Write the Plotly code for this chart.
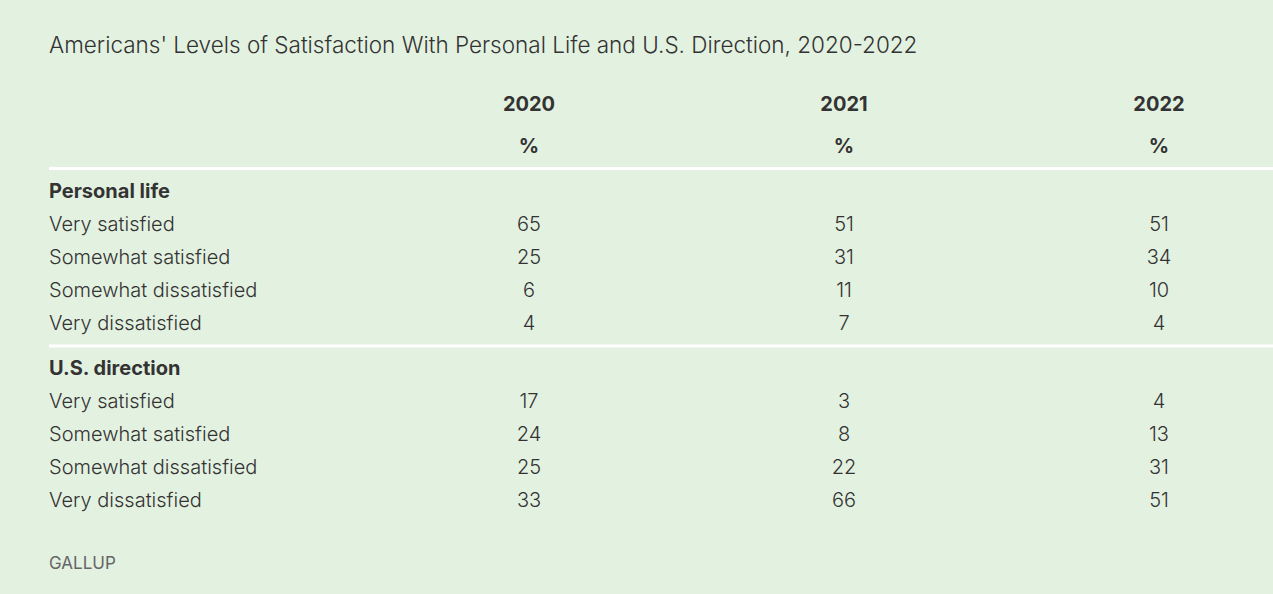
import plotly.graph_objects as go

# --- data ---
years = ["2020", "2021", "2022"]
unit_label = "%"
groups = ["Personal life", "U.S. direction"]
row_labels = ["Very satisfied", "Somewhat satisfied", "Somewhat dissatisfied", "Very dissatisfied"]
personal_2020 = [65, 25, 6, 4]
personal_2021 = [51, 31, 11, 7]
personal_2022 = [51, 34, 10, 4]
direction_2020 = [17, 24, 25, 33]
direction_2021 = [3, 8, 22, 66]
direction_2022 = [4, 13, 31, 51]

title = "Americans' Levels of Satisfaction With Personal Life and U.S. Direction, 2020-2022"
source = "GALLUP"

# --- layout constants (pixel-like axes) ---
W, H = 1273, 594
BG = "#e3f1e0"
TXT = "#333333"
FONT = "Inter"
LEFT = 49
COL0, COL_STEP = 529, 315
ROW_H = 33
DY = 3  # scatter text sits a bit high, nudge down

col_x = [COL0 + COL_STEP * i for i in range(len(years))]
values = [
    [personal_2020, personal_2021, personal_2022],
    [direction_2020, direction_2021, direction_2022],
]

body_font = dict(family=FONT, size=20, color=TXT, weight=300)
bold_font = dict(family=FONT, size=20, color=TXT, weight="bold")

fig = go.Figure()

# header rows
fig.add_trace(go.Scatter(
    x=col_x, y=[103 + DY] * len(years), text=years, mode="text",
    textfont=bold_font, hoverinfo="skip", showlegend=False))
fig.add_trace(go.Scatter(
    x=col_x, y=[145 + DY] * len(years), text=[unit_label] * len(years), mode="text",
    textfont=bold_font, hoverinfo="skip", showlegend=False))

line_ys = [168.5]
y = 190
for g, name in enumerate(groups):
    # group header
    fig.add_trace(go.Scatter(
        x=[LEFT], y=[y + DY], text=[name], mode="text", textposition="middle right",
        textfont=bold_font, hoverinfo="skip", showlegend=False))
    row_y = [y + DY + ROW_H * (k + 1) for k in range(len(row_labels))]
    fig.add_trace(go.Scatter(
        x=[LEFT] * len(row_labels), y=row_y, text=row_labels, mode="text",
        textposition="middle right", textfont=body_font,
        hoverinfo="skip", showlegend=False))
    for c, vals in enumerate(values[g]):
        fig.add_trace(go.Scatter(
            x=[col_x[c]] * len(vals), y=row_y, text=[str(v) for v in vals], mode="text",
            textfont=body_font, hoverinfo="skip", showlegend=False))
    if g < len(groups) - 1:
        last = y + ROW_H * len(row_labels)
        line_ys.append(last + 24)
        y = last + 45

for ly in line_ys:
    fig.add_shape(type="line", xref="x", yref="y", x0=LEFT, x1=W, y0=ly, y1=ly,
                  line=dict(color="white", width=3))

fig.update_layout(
    width=W, height=H,
    margin=dict(l=0, r=0, t=0, b=0),
    paper_bgcolor=BG, plot_bgcolor=BG,
    xaxis=dict(range=[0, W], visible=False, fixedrange=True),
    yaxis=dict(range=[H, 0], visible=False, fixedrange=True),
    title=dict(text=title, x=LEFT / W, xanchor="left", y=1 - 45 / H, yanchor="middle",
               font=dict(family=FONT, size=22.5, color=TXT, weight=300)),
    annotations=[dict(text=source, xref="x", yref="y", x=LEFT - 2, y=563, xanchor="left",
                      yanchor="middle", showarrow=False,
                      font=dict(family=FONT, size=17, color="#666666"))],
)

fig.write_html("out.html", config={"displayModeBar": False},
               post_script="document.body.style.margin='0';document.body.style.overflow='hidden';")
